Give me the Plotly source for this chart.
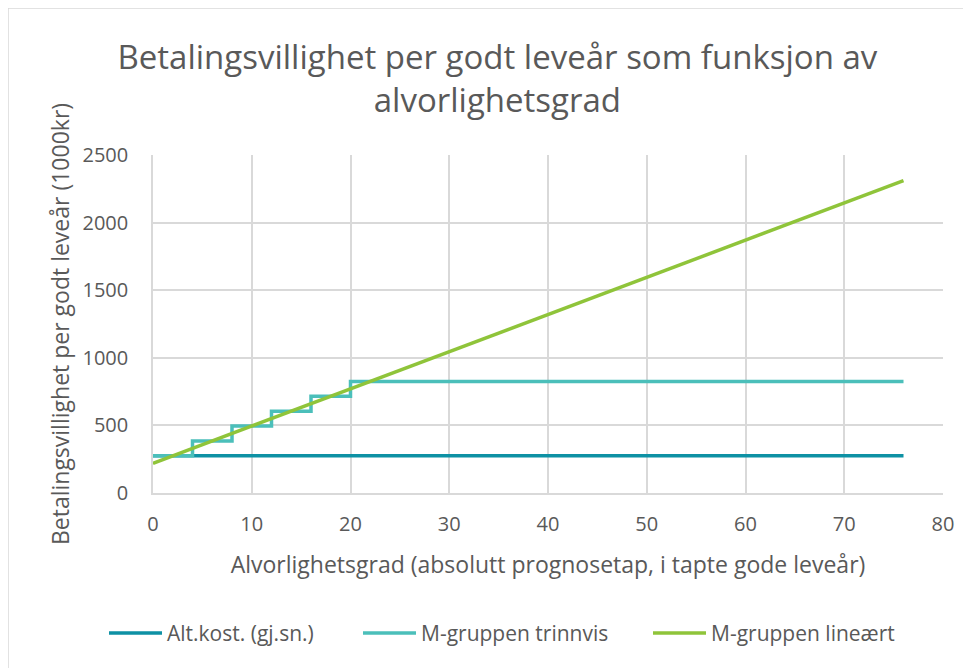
import plotly.graph_objects as go

# Data (values in 1000 kr)
alt_x = [0, 76]
alt_y = [275, 275]

trinn_x = [0, 4, 8, 12, 16, 20, 76]
trinn_y = [275, 385, 495, 605, 715, 825, 825]

lin_x = [0, 76]
lin_y = [220, 2310]

names = ["Alt.kost. (gj.sn.)", "M-gruppen trinnvis", "M-gruppen lineært"]
colors = ["#0E91A4", "#4BBFBA", "#8FC43A"]

FONT = "Open Sans"
GREY = "#595959"

L, T, PW, PH = 145, 147, 790, 338
W, H = 971, 668

fig = go.Figure()
fig.add_trace(go.Scatter(x=alt_x, y=alt_y, mode="lines", name=names[0],
                         line=dict(color=colors[0], width=3.5), showlegend=False))
fig.add_trace(go.Scatter(x=trinn_x, y=trinn_y, mode="lines", name=names[1],
                         line=dict(color=colors[1], width=3.5, shape="hv"), showlegend=False))
fig.add_trace(go.Scatter(x=lin_x, y=lin_y, mode="lines", name=names[2],
                         line=dict(color=colors[2], width=3.5), showlegend=False))


def px_x(fx):
    return (fx - L) / PW


def px_y(fy):
    return (T + PH - fy) / PH


# legend drawn as line samples + text (figure pixel positions of each entry)
leg_starts = [101, 355, 645]
leg_y = 625
shapes = [dict(type="rect", xref="paper", yref="paper",
               x0=-L / PW, x1=1.3, y0=-1.0, y1=1 + T / PH,
               line=dict(color="#D9D9D9", width=1.5), fillcolor="rgba(0,0,0,0)",
               layer="below")]
annotations = []
for name, col, xs in zip(names, colors, leg_starts):
    shapes.append(dict(type="line", xref="paper", yref="paper",
                       x0=px_x(xs), x1=px_x(xs + 53), y0=px_y(leg_y), y1=px_y(leg_y),
                       line=dict(color=col, width=3.5)))
    annotations.append(dict(text=name, xref="paper", yref="paper",
                            x=px_x(xs + 56), y=px_y(leg_y), xanchor="left", yanchor="middle",
                            showarrow=False, font=dict(size=21, family=FONT, color=GREY)))

fig.update_layout(
    width=W, height=H,
    paper_bgcolor="white", plot_bgcolor="white",
    margin=dict(l=L, r=W - L - PW, t=T, b=H - T - PH),
    font=dict(family=FONT, color=GREY),
    title=dict(text="Betalingsvillighet per godt leveår som funksjon av<br>alvorlighetsgrad",
               x=0.504, xanchor="center", y=1 - 61 / H, yanchor="middle",
               yref="container",
               font=dict(size=33, family=FONT, color=GREY)),
    showlegend=False,
    shapes=shapes,
    annotations=annotations,
)

fig.update_xaxes(range=[0, 80], dtick=10, tick0=0,
                 showgrid=True, gridcolor="#D9D9D9", gridwidth=1.5,
                 showline=True, linecolor="#D9D9D9", linewidth=1.5,
                 zeroline=False, ticks="", ticklabelstandoff=12,
                 tickfont=dict(size=20, family=FONT, color=GREY),
                 title=dict(text="Alvorlighetsgrad (absolutt prognosetap, i tapte gode leveår)",
                            font=dict(size=23, family=FONT, color=GREY), standoff=21))
fig.update_yaxes(range=[0, 2500], dtick=500, tick0=0,
                 showgrid=True, gridcolor="#D9D9D9", gridwidth=1.5,
                 showline=True, linecolor="#D9D9D9", linewidth=1.5,
                 zeroline=False, ticks="", ticklabelstandoff=19,
                 tickfont=dict(size=20, family=FONT, color=GREY),
                 title=dict(text="Betalingsvillighet per godt leveår (1000kr)",
                            font=dict(size=23, family=FONT, color=GREY), standoff=6))

fig.write_html("out.html")
